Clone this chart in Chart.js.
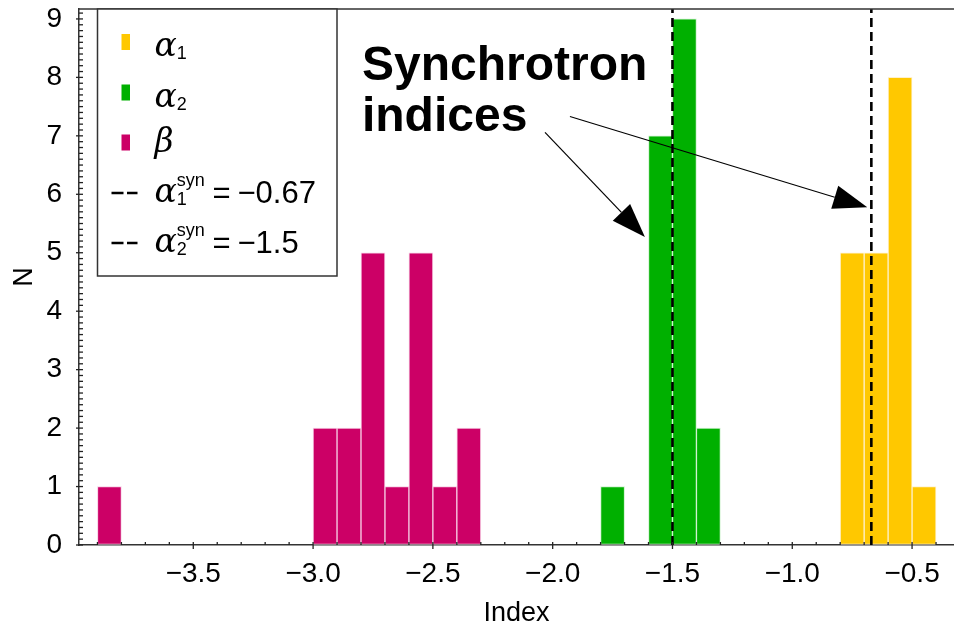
<!DOCTYPE html>
<html><head><meta charset="utf-8">
<script src="https://cdn.jsdelivr.net/npm/chart.js@4/dist/chart.umd.min.js"></script>
<style>html,body{margin:0;padding:0;background:#fff;overflow:hidden}#wrap{width:954px;height:627px;position:relative}</style>
</head><body><div id="wrap"><canvas id="c"></canvas></div>
<script>
// ---- data ----
const binWidth = 0.1;
const alpha1Edges = [-0.8, -0.7, -0.6, -0.5];
const alpha1Counts = [5, 5, 8, 1];
const alpha2Edges = [-1.8, -1.6, -1.5, -1.4];
const alpha2Counts = [1, 7, 9, 2];
const betaEdges = [-3.9, -3.0, -2.9, -2.8, -2.7, -2.6, -2.5, -2.4];
const betaCounts = [1, 2, 2, 5, 1, 5, 1, 2];
const synValues = [-0.67, -1.5];
const synLabels = ['\u22120.67', '\u22121.5'];
const xTickValues = [-3.5, -3.0, -2.5, -2.0, -1.5, -1.0, -0.5];
const yTickValues = [0, 1, 2, 3, 4, 5, 6, 7, 8, 9];
const xRange = [-3.977, -0.325];
const yRange = [0, 9.17];
const annotationLines = ['Synchrotron', 'indices'];
const arrowTails = [[-2.032, 7.06], [-1.928, 7.33]];
const arrowTips = [[-1.615, 5.27], [-0.687, 5.78]];
const textAnchor = [-2.796, 7.95];

const COL = {a1: '#ffc800', a2: '#00b000', b: '#cc0066'};
const TICKFONT = '"Liberation Sans", Arial, sans-serif';

function binsToPoints(edges, counts) {
  return edges.map((e, i) => ({x: +(e + binWidth / 2).toFixed(4), y: counts[i]}));
}
function minus(v) { return (v < 0 ? '\u2212' : '') + Math.abs(v).toFixed(1); }

const barCommon = {type: 'bar', barPercentage: 1, categoryPercentage: 1, grouped: false,
  borderWidth: 1, borderSkipped: false, order: 2};

const datasets = [
  Object.assign({label: 'alpha1', data: binsToPoints(alpha1Edges, alpha1Counts), backgroundColor: COL.a1, borderColor: 'rgba(255,240,200,0.9)'}, barCommon),
  Object.assign({label: 'alpha2', data: binsToPoints(alpha2Edges, alpha2Counts), backgroundColor: COL.a2, borderColor: 'rgba(200,240,200,0.9)'}, barCommon),
  Object.assign({label: 'beta', data: binsToPoints(betaEdges, betaCounts), backgroundColor: COL.b, borderColor: 'rgba(245,200,225,0.9)'}, barCommon),
];
synValues.forEach((v, i) => datasets.push({
  type: 'line', label: 'syn' + (i + 1), data: [{x: v, y: yRange[0]}, {x: v, y: yRange[1]}],
  borderColor: '#000', borderWidth: 2.6, borderDash: [9, 5], pointRadius: 0, fill: false, order: 0
}));

function drawArrow(ctx, x0, y0, x1, y1, len, hw) {
  const dx = x1 - x0, dy = y1 - y0, L = Math.hypot(dx, dy);
  const ux = dx / L, uy = dy / L;
  const bx = x1 - ux * len, by = y1 - uy * len;
  ctx.beginPath(); ctx.moveTo(x0, y0); ctx.lineTo(bx, by); ctx.stroke();
  ctx.beginPath(); ctx.moveTo(x1, y1);
  ctx.lineTo(bx - uy * hw, by + ux * hw); ctx.lineTo(bx + uy * hw, by - ux * hw);
  ctx.closePath(); ctx.fill();
}

const decor = {
  id: 'decor',
  afterDraw(chart) {
    const ctx = chart.ctx, xs = chart.scales.x, ys = chart.scales.y, a = chart.chartArea;
    ctx.save();
    // frame top
    ctx.strokeStyle = '#333'; ctx.lineWidth = 1.5;
    ctx.beginPath(); ctx.moveTo(a.left, a.top); ctx.lineTo(a.right, a.top); ctx.stroke();
    // x ticks
    ctx.lineWidth = 1.3; ctx.strokeStyle = '#222';
    for (let k = -39; k <= -4; k++) {
      const v = k / 10, px = xs.getPixelForValue(v);
      const major = Math.abs(v * 2 - Math.round(v * 2)) < 1e-6;
      ctx.beginPath(); ctx.moveTo(px, a.bottom - 3); ctx.lineTo(px, a.bottom + (major ? 4 : 0)); ctx.stroke();
    }
    // y ticks
    for (let k = 0; k <= 91; k++) {
      const v = k / 10, py = ys.getPixelForValue(v);
      const major = k % 10 === 0;
      ctx.beginPath(); ctx.moveTo(a.left + 4, py); ctx.lineTo(a.left - (major ? 3 : 0), py); ctx.stroke();
    }
    // legend box
    const lx = a.left + 18.5, ly = a.top, lw = 239.5, lh = 267;
    ctx.fillStyle = '#fff'; ctx.fillRect(lx, ly, lw, lh);
    ctx.strokeStyle = '#333'; ctx.lineWidth = 1.5; ctx.strokeRect(lx, ly, lw, lh);
    const sx = lx + 24, tx = lx + 57;
    const swatchCenters = [ly + 33, ly + 83.5, ly + 133.5];
    const baselines = [ly + 47, ly + 98, ly + 143, ly + 193, ly + 243];
    const dashRows = [ly + 184, ly + 234];
    const swatch = [COL.a1, COL.a2, COL.b];
    for (let i = 0; i < 3; i++) { ctx.fillStyle = swatch[i]; ctx.fillRect(sx, swatchCenters[i] - 8, 8.5, 16); }
    ctx.fillStyle = '#000';
    ctx.textBaseline = 'alphabetic'; ctx.textAlign = 'left';
    const greek = 'italic 33px "DejaVu Serif", "Liberation Serif", serif';
    const sub = '18px ' + TICKFONT;
    function alphaSub(b, d, sup) {
      ctx.font = greek; ctx.fillText('\u03b1', tx, b);
      const w = ctx.measureText('\u03b1').width;
      ctx.font = sub; ctx.fillText(d, tx + w, b + 3);
      if (sup) ctx.fillText('syn', tx + w, b - 16);
    }
    alphaSub(baselines[0], '1', false);
    alphaSub(baselines[1], '2', false);
    ctx.font = greek; ctx.fillText('\u03b2', tx, baselines[2]);
    ctx.lineWidth = 2.6; ctx.strokeStyle = '#000';
    dashRows.forEach(y => {
      ctx.beginPath(); ctx.moveTo(lx + 14, y); ctx.lineTo(lx + 26, y);
      ctx.moveTo(lx + 29.5, y); ctx.lineTo(lx + 40, y); ctx.stroke();
    });
    alphaSub(baselines[3], '1', true);
    alphaSub(baselines[4], '2', true);
    ctx.font = '31px ' + TICKFONT;
    [3, 4].forEach((r, i) => {
      ctx.fillText('=', lx + 115, baselines[r] + 1);
      ctx.fillText(synLabels[i], lx + 140, baselines[r] + 1);
    });
    // annotation text
    ctx.font = 'bold 48px "Liberation Sans", Arial, sans-serif';
    const tx0 = xs.getPixelForValue(textAnchor[0]), ty0 = ys.getPixelForValue(textAnchor[1]);
    ctx.fillText(annotationLines[0], tx0, ty0);
    ctx.fillText(annotationLines[1], tx0, ty0 + 51);
    // arrows
    ctx.lineWidth = 1.2; ctx.strokeStyle = '#000'; ctx.fillStyle = '#000';
    arrowTails.forEach((t, i) => {
      drawArrow(ctx, xs.getPixelForValue(t[0]), ys.getPixelForValue(t[1]),
        xs.getPixelForValue(arrowTips[i][0]), ys.getPixelForValue(arrowTips[i][1]), 34, 12);
    });
    ctx.restore();
  }
};

new Chart(document.getElementById('c'), {
  type: 'bar',
  data: {datasets},
  options: {
    responsive: true, maintainAspectRatio: false, animation: false,
    layout: {padding: {top: 9, right: 0, left: 0, bottom: 0}},
    plugins: {legend: {display: false}, tooltip: {enabled: false}},
    scales: {
      x: {
        type: 'linear', min: xRange[0], max: xRange[1], offset: false,
        afterBuildTicks: ax => { ax.ticks = xTickValues.map(v => ({value: v})); },
        afterFit: ax => { ax.height = 82; ax.paddingLeft = 0; ax.paddingRight = 0; },
        grid: {drawOnChartArea: false, drawTicks: false},
        border: {display: true, color: '#333', width: 1.5},
        ticks: {callback: v => minus(v), font: {family: TICKFONT, size: 28}, color: '#000', padding: 12, maxRotation: 0, autoSkip: false},
        title: {display: true, text: 'Index', font: {family: TICKFONT, size: 27}, color: '#000', padding: {top: 0, bottom: -3}}
      },
      y: {
        type: 'linear', min: yRange[0], max: yRange[1],
        afterBuildTicks: ax => { ax.ticks = yTickValues.map(v => ({value: v})); },
        afterFit: ax => { ax.width = 79; ax.paddingTop = 0; ax.paddingBottom = 0; },
        grid: {drawOnChartArea: false, drawTicks: false},
        border: {display: true, color: '#333', width: 1.5},
        ticks: {callback: v => String(v), font: {family: TICKFONT, size: 28}, color: '#000', padding: 17},
        title: {display: true, text: 'N', font: {family: TICKFONT, size: 27}, color: '#000', padding: {top: 8, bottom: 0}}
      }
    }
  },
  plugins: [decor]
});
</script></body></html>
